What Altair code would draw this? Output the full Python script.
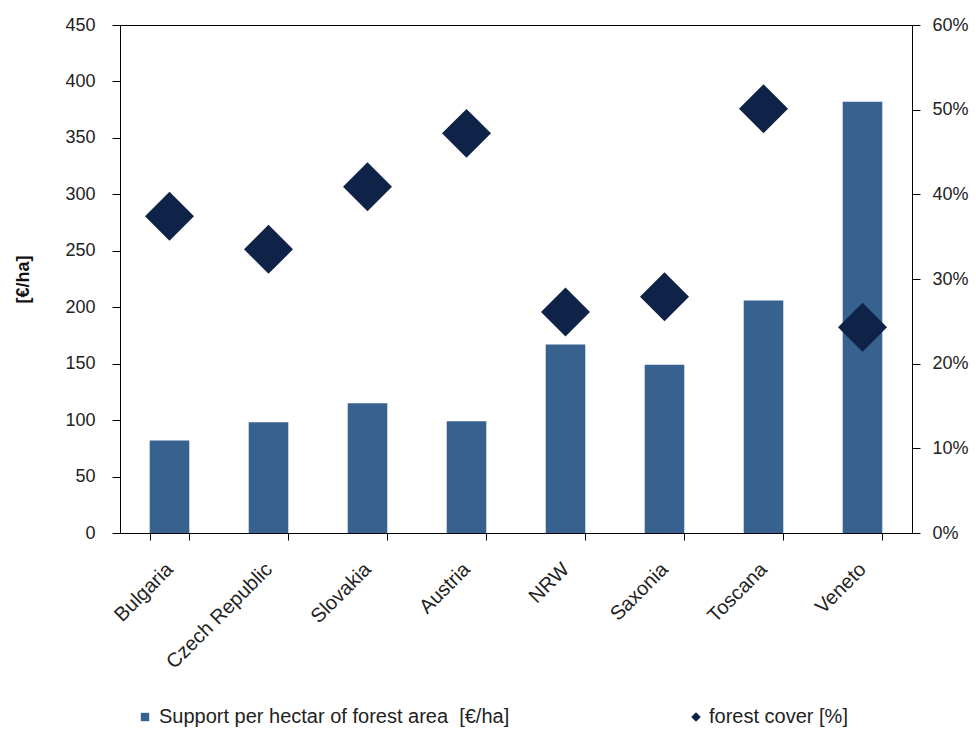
import altair as alt
import pandas as pd

# Regions and their values
regions = ["Bulgaria", "Czech Republic", "Slovakia", "Austria",
           "NRW", "Saxonia", "Toscana", "Veneto"]
support_per_ha = [82, 98, 115, 99, 167, 149, 206, 382]          # €/ha
forest_cover = [0.374, 0.335, 0.409, 0.472, 0.261, 0.279, 0.501, 0.243]  # share

# non-breaking spaces keep the double gap in the rendered label
bar_series = "Support per hectar of forest area \u00a0[€/ha]"
point_series = "forest cover [%]"

left_ticks = [0, 50, 100, 150, 200, 250, 300, 350, 400, 450]
right_ticks = [0, 0.1, 0.2, 0.3, 0.4, 0.5, 0.6]

BAR_COLOR = "#37618f"
DIAMOND_COLOR = "#0f2247"
FONT = "Liberation Sans"

df = pd.DataFrame({
    "region": regions,
    "support": support_per_ha,
    "cover": forest_cover,
})

x_enc = alt.X(
    "region:N",
    sort=regions,
    scale=alt.Scale(paddingInner=0.6, paddingOuter=0.3),
    axis=alt.Axis(
        title=None,
        labelAngle=-45,
        labelAlign="right",
        labelBaseline="middle",
        labelPadding=26,
        labelFontSize=20,
        labelFont=FONT,
        labelColor="#222222",
        tickBand="extent",
        tickSize=7,
        tickColor="#000000",
        domainColor="#000000",
        labelOverlap=False,
    ),
)

bars = alt.Chart(df).mark_bar(color=BAR_COLOR).encode(
    x=x_enc,
    y=alt.Y(
        "support:Q",
        scale=alt.Scale(domain=[0, 450], nice=False),
        axis=alt.Axis(
            title="[€/ha]",
            titleFont=FONT,
            titleFontSize=18,
            titleFontWeight="bold",
            titleColor="#111111",
            titlePadding=32,
            values=left_ticks,
            labelFont=FONT,
            labelFontSize=18,
            labelColor="#222222",
            labelPadding=17,
            tickSize=8,
            tickColor="#000000",
            domainColor="#000000",
            grid=False,
        ),
    ),
    color=alt.Color(
        "s:N",
        scale=alt.Scale(domain=[bar_series], range=[BAR_COLOR]),
        legend=alt.Legend(
            title=None,
            orient="none",
            legendX=15,
            legendY=682,
            symbolType="square",
            symbolSize=70,
            labelFont=FONT,
            labelFontSize=20,
            labelColor="#222222",
            labelOffset=4,
            labelLimit=0,
        ),
    ),
).transform_calculate(s=f"'{bar_series}'")

diamonds = alt.Chart(df).mark_point(
    filled=True, color=DIAMOND_COLOR, opacity=1, size=2400
).encode(
    x=alt.X("region:N", sort=regions),
    y=alt.Y(
        "cover:Q",
        scale=alt.Scale(domain=[0, 0.6], nice=False),
        axis=alt.Axis(
            title=None,
            orient="right",
            format=".0%",
            values=right_ticks,
            labelFont=FONT,
            labelFontSize=18,
            labelColor="#222222",
            labelPadding=12,
            tickSize=8,
            tickColor="#000000",
            domainColor="#000000",
            grid=False,
        ),
    ),
    shape=alt.Shape(
        "p:N",
        scale=alt.Scale(domain=[point_series], range=["diamond"]),
        legend=alt.Legend(
            title=None,
            orient="none",
            legendX=566,
            legendY=682,
            symbolSize=90,
            symbolFillColor=DIAMOND_COLOR,
            symbolStrokeColor=DIAMOND_COLOR,
            labelFont=FONT,
            labelFontSize=20,
            labelColor="#222222",
            labelOffset=3,
            labelLimit=0,
        ),
    ),
).transform_calculate(p=f"'{point_series}'")

chart = (
    alt.layer(bars, diamonds)
    .resolve_scale(y="independent")
    .properties(
        width=792,
        height=508,
        autosize=alt.AutoSizeParams(type="none"),
        padding={"left": 120, "top": 25, "right": 64, "bottom": 207},
        background="#ffffff",
    )
    .configure_view(stroke="#000000", strokeWidth=1)
)

chart.save("out.html", embed_options={"renderer": "svg", "actions": False})
